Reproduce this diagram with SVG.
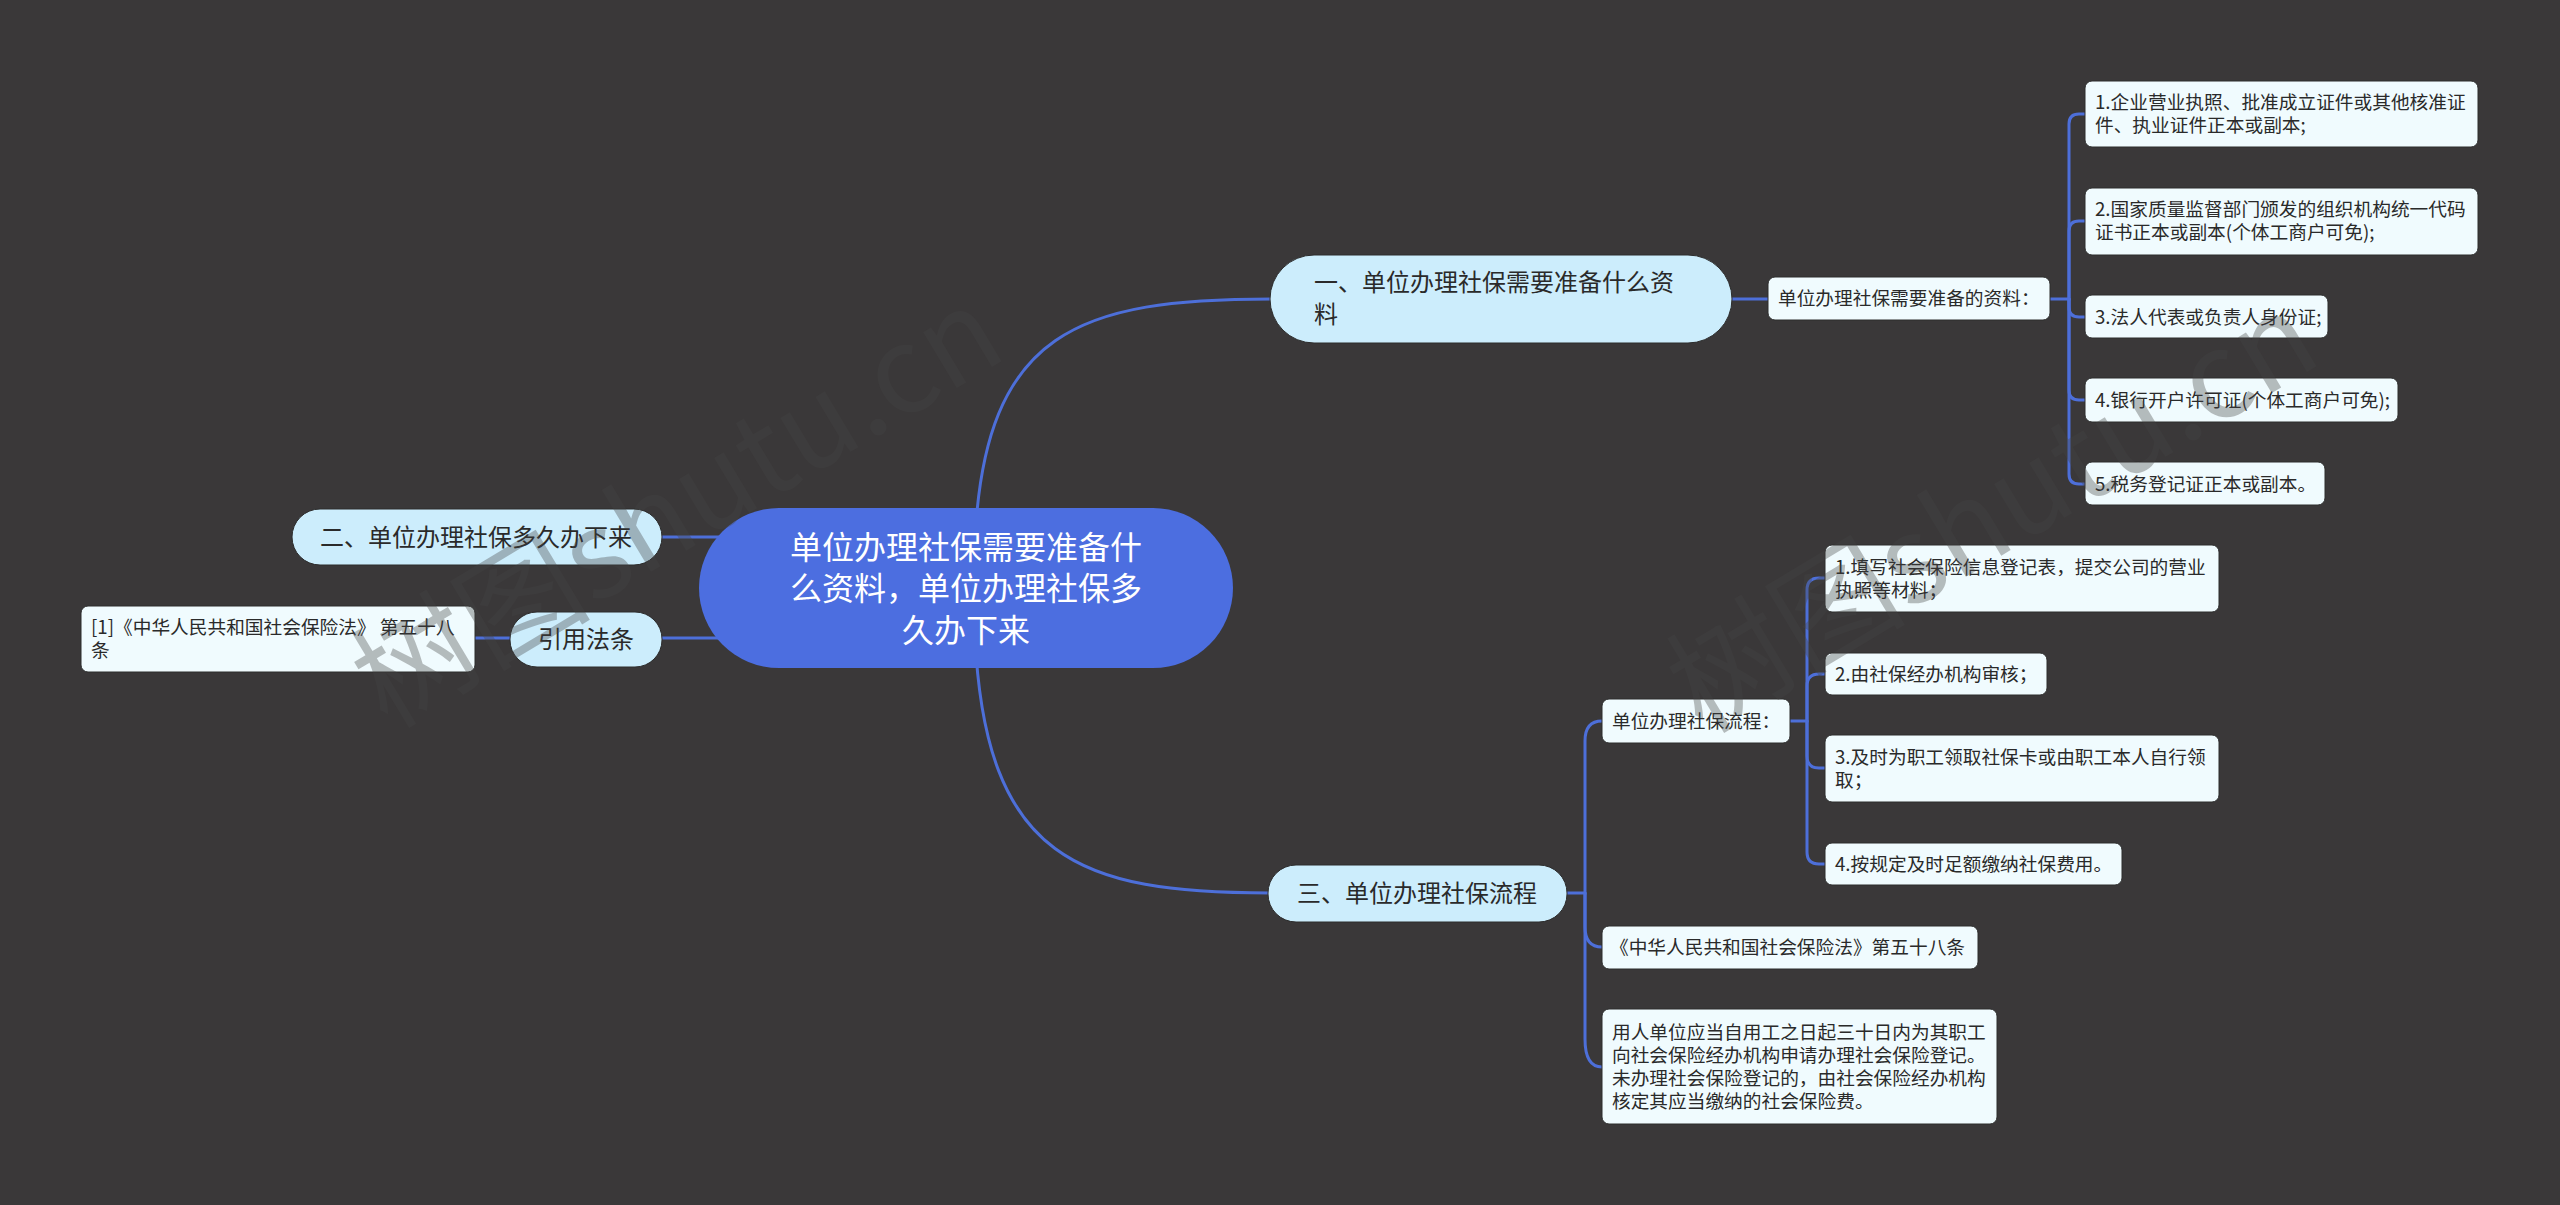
<svg xmlns="http://www.w3.org/2000/svg" width="2560" height="1205" viewBox="0 0 2560 1205">
<style>
.bg{fill:#3a3839}
.ln{fill:none;stroke:#4d6fd9;stroke-width:3;stroke-linecap:round}
.root{fill:#4c6ee0}
.l1{fill:#ccedfc;stroke:#2c2c2c;stroke-width:1}
.l2{fill:#f0fbfe;stroke:#2c2c2c;stroke-width:1}
text{font-family:"Noto Sans CJK SC","Noto Sans",sans-serif;fill:#2a2a2a}
.tr{font-size:32px;fill:#ffffff;text-anchor:middle}
.t1{font-size:24px}
.t2{font-size:18.7px}
.wm{font-size:120px;font-weight:normal;fill:#454545;opacity:0.35}
</style>
<rect class="bg" x="0" y="0" width="2560" height="1205"/>
<g id="connectors">
<path class="ln" d="M975,540 C985,330 1080,299 1272,299"/>
<path class="ln" d="M975,636 C985,860 1080,893 1270,893"/>
<path class="ln" d="M720,537 H662"/>
<path class="ln" d="M720,638 H662"/>
<path class="ln" d="M510,638 H475"/>
<path class="ln" d="M1732,299 H1768"/>
<path class="ln" d="M2050,299 H2069 V124 Q2069,114 2079,114 H2085"/>
<path class="ln" d="M2069,299 V231 Q2069,221 2079,221 H2085"/>
<path class="ln" d="M2069,299 V307 Q2069,317 2079,317 H2085"/>
<path class="ln" d="M2069,299 V390 Q2069,400 2079,400 H2085"/>
<path class="ln" d="M2069,299 V474 Q2069,484 2079,484 H2085"/>
<path class="ln" d="M1567,893 H1585 V741 Q1585,721 1602,721"/>
<path class="ln" d="M1585,893 V927 Q1585,947 1602,947"/>
<path class="ln" d="M1585,893 V1039 Q1585,1067 1602,1067"/>
<path class="ln" d="M1790,721 H1807 V590 Q1807,578 1819,578 H1825"/>
<path class="ln" d="M1807,721 V686 Q1807,674 1819,674 H1825"/>
<path class="ln" d="M1807,721 V756 Q1807,768 1819,768 H1825"/>
<path class="ln" d="M1807,721 V852 Q1807,864 1819,864 H1825"/>
</g>
<g id="root">
<rect class="root" x="699" y="508" width="534" height="160" rx="80" ry="80"/>
<text class="tr" x="966" y="559">单位办理社保需要准备什</text>
<text class="tr" x="966" y="600">么资料，单位办理社保多</text>
<text class="tr" x="966" y="642">久办下来</text>
</g>
<g id="n1">
<rect class="l1" x="1270" y="255" width="462" height="88" rx="44" ry="44"/>
<text class="t1" x="1314" y="291">一、单位办理社保需要准备什么资</text>
<text class="t1" x="1314" y="323">料</text>
</g>
<g id="n1a">
<rect class="l2" x="1768" y="277" width="282" height="43" rx="7"/>
<text class="t2" x="1778" y="305">单位办理社保需要准备的资料：</text>
</g>
<g id="n1a1">
<rect class="l2" x="2085" y="81" width="393" height="66" rx="7"/>
<text class="t2" x="2095" y="109">1.企业营业执照、批准成立证件或其他核准证</text>
<text class="t2" x="2095" y="132">件、执业证件正本或副本;</text>
</g>
<g id="n1a2">
<rect class="l2" x="2085" y="188" width="393" height="67" rx="7"/>
<text class="t2" x="2095" y="216">2.国家质量监督部门颁发的组织机构统一代码</text>
<text class="t2" x="2095" y="239">证书正本或副本(个体工商户可免);</text>
</g>
<g id="n1a3">
<rect class="l2" x="2085" y="295" width="243" height="43" rx="7"/>
<text class="t2" x="2095" y="324">3.法人代表或负责人身份证;</text>
</g>
<g id="n1a4">
<rect class="l2" x="2085" y="378" width="313" height="44" rx="7"/>
<text class="t2" x="2095" y="407">4.银行开户许可证(个体工商户可免);</text>
</g>
<g id="n1a5">
<rect class="l2" x="2085" y="462" width="240" height="43" rx="7"/>
<text class="t2" x="2095" y="491">5.税务登记证正本或副本。</text>
</g>
<g id="n2">
<rect class="l1" x="292" y="509" width="370" height="56" rx="28" ry="28"/>
<text class="t1" x="320" y="546">二、单位办理社保多久办下来</text>
</g>
<g id="n4">
<rect class="l1" x="510" y="612" width="152" height="55" rx="27" ry="27"/>
<text class="t1" x="538" y="648">引用法条</text>
</g>
<g id="n4a">
<rect class="l2" x="81" y="606" width="394" height="66" rx="7"/>
<text class="t2" x="91" y="634">[1]《中华人民共和国社会保险法》 第五十八</text>
<text class="t2" x="91" y="657">条</text>
</g>
<g id="n3">
<rect class="l1" x="1268" y="865" width="299" height="57" rx="28" ry="28"/>
<text class="t1" x="1297" y="902">三、单位办理社保流程</text>
</g>
<g id="n3a">
<rect class="l2" x="1602" y="699" width="188" height="44" rx="7"/>
<text class="t2" x="1612" y="728">单位办理社保流程：</text>
</g>
<g id="n3a1">
<rect class="l2" x="1825" y="545" width="394" height="67" rx="7"/>
<text class="t2" x="1835" y="574">1.填写社会保险信息登记表，提交公司的营业</text>
<text class="t2" x="1835" y="597">执照等材料；</text>
</g>
<g id="n3a2">
<rect class="l2" x="1825" y="653" width="222" height="42" rx="7"/>
<text class="t2" x="1835" y="681">2.由社保经办机构审核；</text>
</g>
<g id="n3a3">
<rect class="l2" x="1825" y="735" width="394" height="67" rx="7"/>
<text class="t2" x="1835" y="764">3.及时为职工领取社保卡或由职工本人自行领</text>
<text class="t2" x="1835" y="787">取；</text>
</g>
<g id="n3a4">
<rect class="l2" x="1825" y="843" width="297" height="42" rx="7"/>
<text class="t2" x="1835" y="871">4.按规定及时足额缴纳社保费用。</text>
</g>
<g id="n3b">
<rect class="l2" x="1602" y="926" width="376" height="43" rx="7"/>
<text class="t2" x="1610" y="954">《中华人民共和国社会保险法》第五十八条</text>
</g>
<g id="n3c">
<rect class="l2" x="1602" y="1009" width="395" height="115" rx="7"/>
<text class="t2" x="1612" y="1039">用人单位应当自用工之日起三十日内为其职工</text>
<text class="t2" x="1612" y="1062">向社会保险经办机构申请办理社会保险登记。</text>
<text class="t2" x="1612" y="1085">未办理社会保险登记的，由社会保险经办机构</text>
<text class="t2" x="1612" y="1108">核定其应当缴纳的社会保险费。</text>
</g>
<g id="watermark">
<text class="wm" transform="translate(600,565) rotate(-31)" x="-267" y="32">树图shutu.cn</text>
<text class="wm" transform="translate(1915,570) rotate(-31)" x="-267" y="32">树图shutu.cn</text>
</g>
</svg>
